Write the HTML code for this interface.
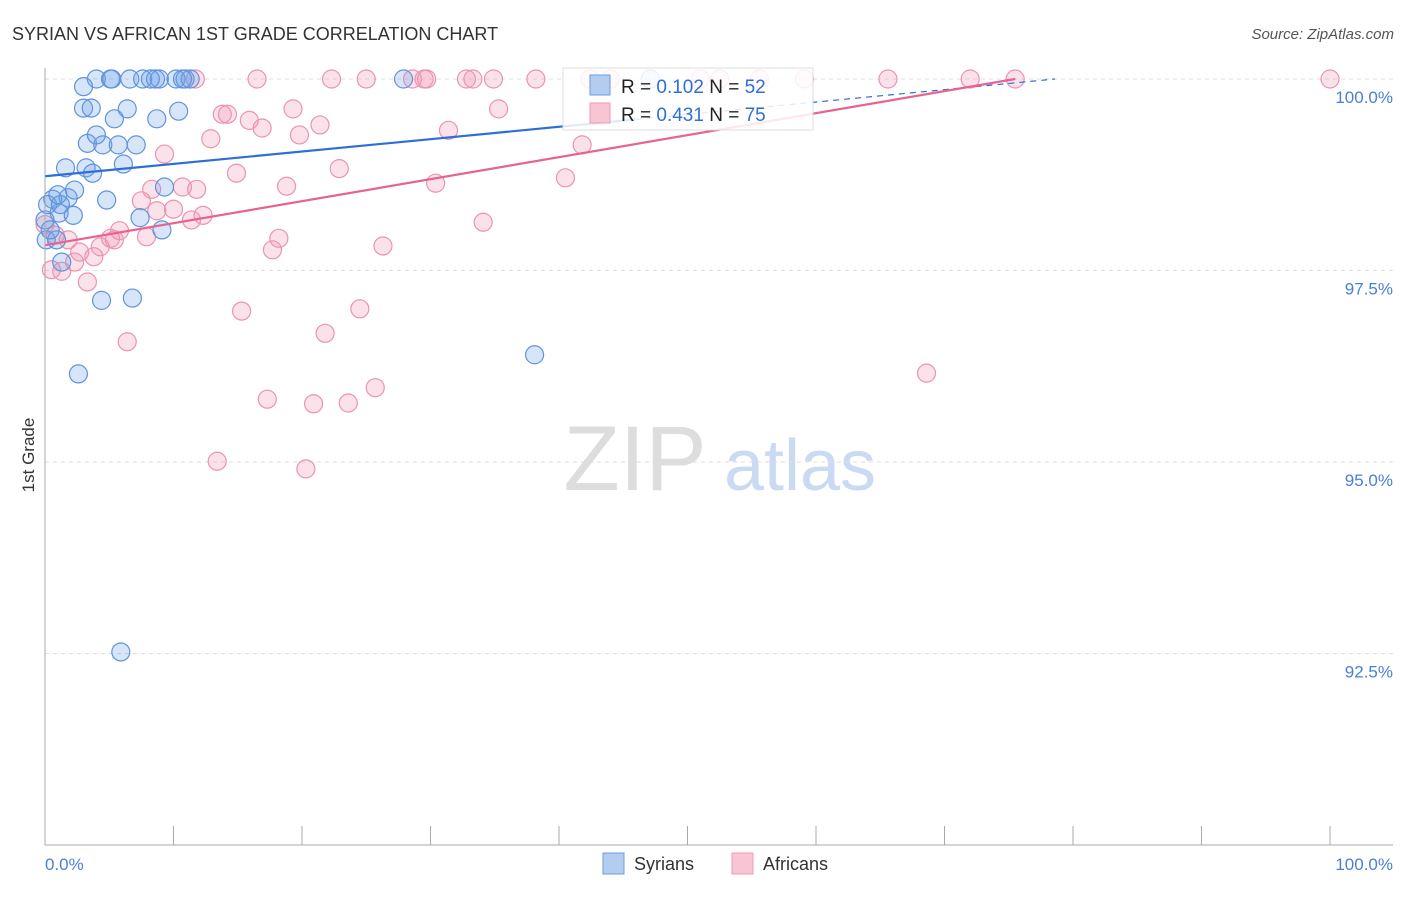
<!DOCTYPE html>
<html><head><meta charset="utf-8"><style>
body{margin:0;background:#fff;font-family:"Liberation Sans",sans-serif}
svg text{font-family:"Liberation Sans",sans-serif}
</style></head><body>
<svg id="chart" width="1406" height="892" xmlns="http://www.w3.org/2000/svg">
<text x="12" y="40" font-size="18" fill="#333">SYRIAN VS AFRICAN 1ST GRADE CORRELATION CHART</text>
<text x="1394" y="39" font-size="15" fill="#555" text-anchor="end" font-style="italic">Source: ZipAtlas.com</text>
<text transform="translate(34,455) rotate(-90)" font-size="17" fill="#333" text-anchor="middle">1st Grade</text>
<g><text x="635" y="490" font-size="92" fill="#ddd" text-anchor="middle" font-family="Liberation Serif">ZIP</text><text x="800" y="490" font-size="72" fill="#c9daf2" text-anchor="middle">atlas</text></g>
<g id="grid"></g><g id="pts"></g><g id="trend"></g>
<line x1="45" y1="845" x2="1393" y2="845" stroke="#aaa"/>
<line x1="45" y1="68" x2="45" y2="845" stroke="#aaa"/>
<text x="45" y="870" font-size="17" fill="#4a7fd6">0.0%</text>
<text x="1393" y="870" font-size="17" fill="#4a7fd6" text-anchor="end">100.0%</text>
<g>
<rect x="563" y="68" width="250" height="62" fill="#fff" fill-opacity="0.85" stroke="#ddd"/>
<rect x="590" y="75" width="20" height="20" fill="#b3cdf0" stroke="#6b9be0"/>
<rect x="590" y="103" width="20" height="20" fill="#f9c5d5" stroke="#ec9ab5"/>
<text x="621" y="93" font-size="19" fill="#222">R = <tspan fill="#2f6fd6">0.102</tspan>   N = <tspan fill="#2f6fd6">52</tspan></text>
<text x="621" y="121" font-size="19" fill="#222">R = <tspan fill="#2f6fd6">0.431</tspan>   N = <tspan fill="#2f6fd6">75</tspan></text>
</g>
<g>
<rect x="603" y="853" width="21" height="21" fill="#b3cdf0" stroke="#6b9be0"/>
<text x="634" y="870" font-size="18" fill="#333">Syrians</text>
<rect x="732" y="853" width="21" height="21" fill="#f9c5d5" stroke="#ec9ab5"/>
<text x="763" y="870" font-size="18" fill="#333">Africans</text>
</g>
</svg>
<script>
const yTicks=[100,97.5,95,92.5];
const yTickLabels=["100.0%","97.5%","95.0%","92.5%"];
const xTicks=[0,10,20,30,40,50,60,70,80,90,100];
const syrX=[4.0,5.2,6.6,7.6,8.6,8.9,10.2,10.9,11.3,27.9,47.1,3.0,3.0,3.6,6.4,8.7,10.4,5.4,3.3,4.5,4.0,5.7,7.1,6.1,1.6,3.2,3.7,0.6,1.1,1.8,2.3,4.8,9.3,7.4,9.1,2.2,0.1,0.9,1.3,4.4,6.8,2.6,38.1,5.9,0.2,0.0,1.2,0.4,1.0,5.1,8.2,10.7];
const syrY=[100,100,100,100,100,100,100,100,100,100,100,99.90,99.62,99.62,99.61,99.48,99.58,99.48,99.16,99.14,99.27,99.14,99.14,98.89,98.84,98.84,98.77,98.43,98.25,98.45,98.55,98.42,98.59,98.19,98.03,98.22,97.90,97.90,97.61,97.11,97.14,96.15,96.40,92.52,98.36,98.16,98.36,98.03,98.49,100,100,100];
const afrX=[16.5,22.3,25.0,28.6,29.5,29.7,32.8,33.3,34.9,38.2,42.4,52.5,59.1,65.6,72.0,75.5,100,11.7,44.0,51.0,55.6,13.8,14.2,15.9,19.3,16.9,19.8,21.4,12.9,9.3,14.9,18.8,22.9,31.4,35.3,41.8,40.5,30.4,34.1,26.3,8.3,10.7,11.8,7.5,8.7,10.0,12.3,11.4,7.9,5.1,5.8,4.3,2.7,3.8,2.3,1.3,3.3,18.2,17.7,15.3,24.5,21.8,6.4,25.7,17.3,20.9,23.6,13.4,20.3,68.6,0.0,0.8,1.8,0.5,5.4];
const afrY=[100,100,100,100,100,100,100,100,100,100,100,100,100,100,100,100,100,100,100,100,100,99.54,99.54,99.46,99.61,99.36,99.27,99.40,99.22,99.02,98.77,98.60,98.83,99.33,99.61,99.14,98.71,98.64,98.13,97.82,98.56,98.59,98.56,98.41,98.28,98.30,98.22,98.16,97.94,97.92,98.02,97.81,97.74,97.68,97.61,97.49,97.35,97.92,97.77,96.97,97.00,96.68,96.57,95.97,95.82,95.76,95.77,95.01,94.91,96.16,98.10,97.96,97.90,97.51,97.90];
const syrTrend=[98.73,100]; // y at x=0 and at x=78.6
const syrTrendX=[0,78.6];
const afrTrend=[97.83,100];
const afrTrendX=[0,75.5];
const xs=v=>45+v*12.85, ys=v=>79+(100-v)*76.6;
const NS="http://www.w3.org/2000/svg";
function mk(t,a,p){const e=document.createElementNS(NS,t);for(const k in a)e.setAttribute(k,a[k]);p.appendChild(e);return e;}
const grid=document.getElementById('grid');
yTicks.forEach((t,i)=>{
 const l=mk('line',{x1:45,x2:1393,y1:ys(t),y2:ys(t),stroke:'#ddd','stroke-dasharray':'4,4'},grid);
 
 
 const tx=mk('text',{x:1393,y:ys(t)+24,'font-size':17,fill:'#4a7fd6','text-anchor':'end'},grid);
 tx.textContent=yTickLabels[i];
 
 
});
xTicks.forEach(t=>{
 const l=mk('line',{x1:xs(t),x2:xs(t),y1:826,y2:845,stroke:'#aaa'},grid);
 
 
});
const pts=document.getElementById('pts');
afrX.forEach((x,i)=>{
 const c=mk('circle',{cx:xs(x),cy:ys(afrY[i]),r:9,fill:'rgba(242,150,180,0.28)',stroke:'#eb93b0','stroke-width':1.2},pts);
 
 
});
syrX.forEach((x,i)=>{
 const c=mk('circle',{cx:xs(x),cy:ys(syrY[i]),r:9,fill:'rgba(110,160,230,0.28)',stroke:'#5f93dc','stroke-width':1.2},pts);
 
 
});
const tr=document.getElementById('trend');
function trend(X,Y,col,solidEnd,name){
 const f=x=>Y[0]+(Y[1]-Y[0])*(x-X[0])/(X[1]-X[0]);
 const a=mk('line',{x1:xs(X[0]),y1:ys(f(X[0])),x2:xs(solidEnd),y2:ys(f(solidEnd)),stroke:col,'stroke-width':2.2},tr);
 
 
 const b=mk('line',{x1:xs(solidEnd),y1:ys(f(solidEnd)),x2:xs(X[1]),y2:ys(f(X[1])),stroke:col,'stroke-width':1.2,'stroke-dasharray':'6,5'},tr);
 
 
}
trend(syrTrendX,syrTrend,'#2d6fd6',46,'syrian');
trend(afrTrendX,afrTrend,'#e8638f',75.5,'african');
</script>
</body></html>
